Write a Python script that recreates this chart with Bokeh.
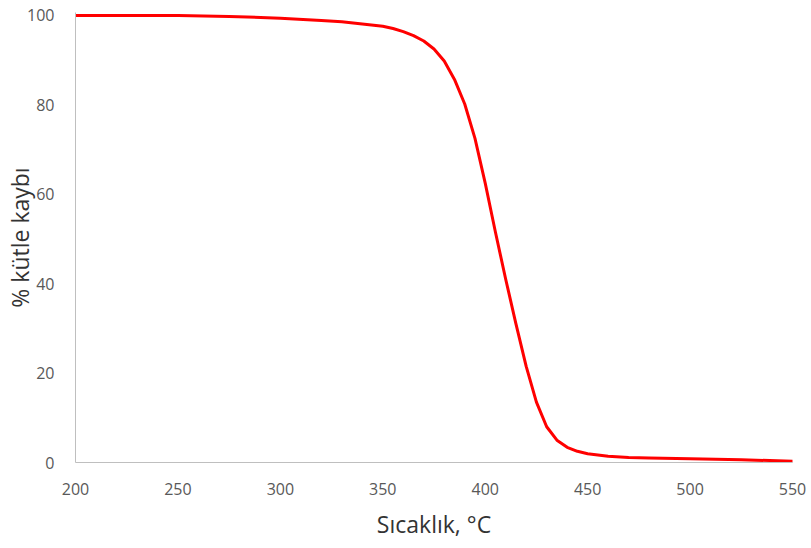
from bokeh.plotting import figure
from bokeh.models import Range1d, FixedTicker
from bokeh.embed import file_html
from bokeh.resources import INLINE

# Thermogravimetric curve: temperature (°C) vs. % mass
temperature = [200, 250, 275, 300, 320, 330, 340, 350, 355, 360, 365, 370,
               375, 380, 385, 390, 395, 400, 405, 410, 415, 420, 425, 430,
               435, 440, 445, 450, 460, 470, 480, 500, 525, 550]
mass_pct = [100.0, 100.0, 99.8, 99.4, 98.9, 98.6, 98.1, 97.6, 97.1, 96.4, 95.5, 94.3,
            92.5, 89.8, 85.7, 80.2, 72.5, 62.5, 51.5, 41.0, 31.0, 21.5, 13.5, 8.0,
            5.0, 3.4, 2.5, 1.95, 1.4, 1.1, 1.0, 0.85, 0.6, 0.3]

x_ticks = [200, 250, 300, 350, 400, 450, 500, 550]
y_ticks = [0, 20, 40, 60, 80, 100]

FONT = "Open Sans"

p = figure(width=811, height=548, output_backend="svg", toolbar_location=None,
           x_range=Range1d(200, 550), y_range=Range1d(0, 100.67),
           min_border_left=75, min_border_right=19,
           min_border_top=12, min_border_bottom=86)

p.line(temperature, mass_pct, line_color="#FF0000", line_width=3,
       line_join="round", line_cap="round")

p.outline_line_color = None
p.xgrid.grid_line_color = None
p.ygrid.grid_line_color = None
p.background_fill_color = "white"
p.border_fill_color = "white"

for ax in (p.xaxis[0], p.yaxis[0]):
    ax.axis_line_color = "#BFBFBF"
    ax.axis_line_width = 1
    ax.major_tick_line_color = None
    ax.minor_tick_line_color = None
    ax.major_label_text_font = FONT
    ax.major_label_text_font_size = "16px"
    ax.major_label_text_color = "#595959"
    ax.axis_label_text_font = FONT
    ax.axis_label_text_font_size = "23px"
    ax.axis_label_text_font_style = "normal"
    ax.axis_label_text_color = "#333333"

p.xaxis.ticker = FixedTicker(ticks=x_ticks)
p.yaxis.ticker = FixedTicker(ticks=y_ticks)
p.xaxis.axis_label = "Sıcaklık, °C"
p.yaxis.axis_label = "% kütle kaybı"
p.xaxis.major_label_standoff = 14
p.yaxis.major_label_standoff = 15
p.xaxis.axis_label_standoff = 10
p.yaxis.axis_label_standoff = -12

open("out.html", "w").write(file_html(p, INLINE))
